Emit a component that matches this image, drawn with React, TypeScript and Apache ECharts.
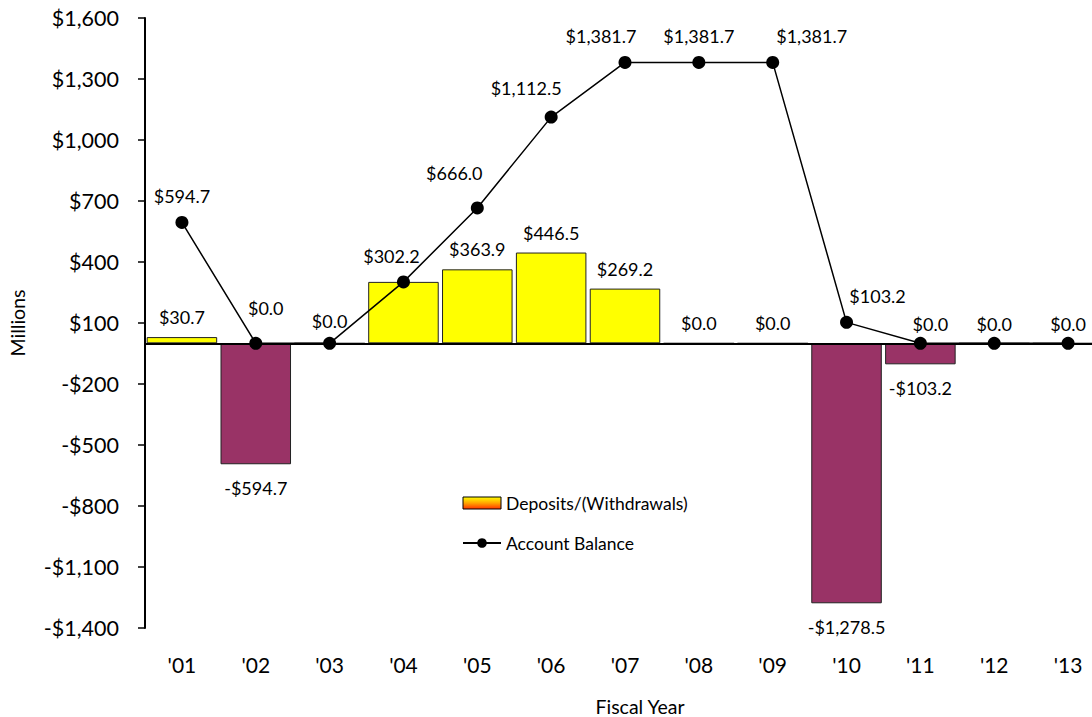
import React, { useEffect, useRef } from "react";
import * as echarts from "echarts";

// ---- data ----
const categories = ["'01", "'02", "'03", "'04", "'05", "'06", "'07", "'08", "'09", "'10", "'11", "'12", "'13"];
const depositValues = [30.7, -594.7, 0, 302.2, 363.9, 446.5, 269.2, 0, 0, -1278.5, -103.2, 0, 0];
const balanceValues = [594.7, 0, 0, 302.2, 666.0, 1112.5, 1381.7, 1381.7, 1381.7, 103.2, 0, 0, 0];
const seriesNames = ["Deposits/(Withdrawals)", "Account Balance"];
const yMin = -1400;
const yMax = 1600;
const yStep = 300;
const xTitle = "Fiscal Year";
const yTitle = "Millions";

const FONT = "Lato, 'Open Sans', sans-serif";

function money(v: number, digits: number): string {
  const s = Math.abs(v).toLocaleString("en-US", {
    minimumFractionDigits: digits,
    maximumFractionDigits: digits,
  });
  return (v < 0 ? "-" : "") + "$" + s;
}

export default function App() {
  const ref = useRef<HTMLDivElement>(null);

  useEffect(() => {
    document.body.style.margin = "0";
    document.body.style.overflow = "hidden";
    if (!ref.current) return;
    const chart = echarts.init(ref.current, undefined, { renderer: "svg" });

    // label nudges (style only) for the balance line labels, [dx, dy]
    const lineShift: number[][] = [
      [0, 0], [10, -9], [0, 4], [-12, 1], [-23, -8], [-25, -3], [-24, 0],
      [0, 0], [39, 0], [31, 0], [10, 7], [0, 7], [0, 7],
    ];

    const barData = depositValues.map((v, i) => ({
      value: v,
      itemStyle: { color: v >= 0 ? "#FFFF00" : "#993366" },
      label: {
        show: v !== balanceValues[i],
        position: v < 0 ? "bottom" : "top",
        distance: v < 0 ? 15 : 11,
      },
    }));

    const lineData = balanceValues.map((v, i) => ({
      value: v,
      label: { offset: lineShift[i] },
    }));

    const option: any = {
      animation: false,
      textStyle: { fontFamily: FONT, color: "#000" },
      grid: {
        left: 145,
        top: 18,
        width: 960,
        height: 610,
        containLabel: false,
        outerBoundsMode: "none",
      },
      legend: {
        orient: "vertical",
        left: 457,
        top: 489,
        itemWidth: 38,
        itemHeight: 12,
        itemGap: 22,
        textStyle: { fontFamily: FONT, fontSize: 17.5, color: "#000" },
        data: [
          {
            name: seriesNames[0],
            icon: "rect",
            itemStyle: {
              color: new echarts.graphic.LinearGradient(0, 0, 0, 1, [
                { offset: 0, color: "#FFFF00" },
                { offset: 0.5, color: "#FFA500" },
                { offset: 1, color: "#FF3300" },
              ]),
              borderColor: "#000",
              borderWidth: 1,
            },
          },
          { name: seriesNames[1] },
        ],
      },
      xAxis: {
        type: "category",
        data: categories,
        axisLine: { show: false, onZero: false },
        axisTick: { show: false },
        axisLabel: { fontFamily: FONT, fontSize: 21, color: "#000", margin: 26 },
        splitLine: { show: false },
      },
      yAxis: {
        type: "value",
        min: yMin,
        max: yMax,
        interval: yStep,
        axisLine: { show: true, lineStyle: { color: "#000", width: 2 } },
        axisTick: { show: true, inside: false, length: 7, lineStyle: { color: "#000", width: 1.5 } },
        axisLabel: {
          fontFamily: FONT,
          fontSize: 21.5,
          color: "#000",
          margin: 26,
          formatter: (v: number) => money(v, 0),
        },
        splitLine: { show: false },
      },
      graphic: [
        {
          type: "text",
          x: 640,
          y: 706,
          style: {
            text: xTitle,
            fontFamily: FONT,
            fontSize: 19.5,
            fill: "#000",
            align: "center",
            verticalAlign: "middle",
          },
        },
        {
          type: "text",
          x: 17,
          y: 323,
          rotation: Math.PI / 2,
          style: {
            text: yTitle,
            fontFamily: FONT,
            fontSize: 19.5,
            fill: "#000",
            align: "center",
            verticalAlign: "middle",
          },
        },
      ],
      series: [
        {
          name: seriesNames[0],
          type: "bar",
          data: barData,
          barCategoryGap: "4.5%",
          itemStyle: { borderColor: "#222", borderWidth: 1 },
          label: {
            show: true,
            fontFamily: FONT,
            fontSize: 18,
            color: "#000",
            formatter: (p: any) => money(p.value, 1),
          },
          markLine: {
            silent: true,
            symbol: "none",
            label: { show: false },
            lineStyle: { color: "#000", width: 2, type: "solid" },
            data: [{ yAxis: 0 }],
          },
        },
        {
          name: seriesNames[1],
          type: "line",
          data: lineData,
          symbol: "circle",
          symbolSize: 13,
          itemStyle: { color: "#000" },
          lineStyle: { color: "#000", width: 1.5 },
          z: 5,
          label: {
            show: true,
            position: "top",
            distance: 11,
            fontFamily: FONT,
            fontSize: 18,
            color: "#000",
            formatter: (p: any) => money(p.value, 1),
          },
        },
      ],
    };

    chart.setOption(option);
    return () => chart.dispose();
  }, []);

  return <div ref={ref} style={{ width: 1092, height: 717 }} />;
}
